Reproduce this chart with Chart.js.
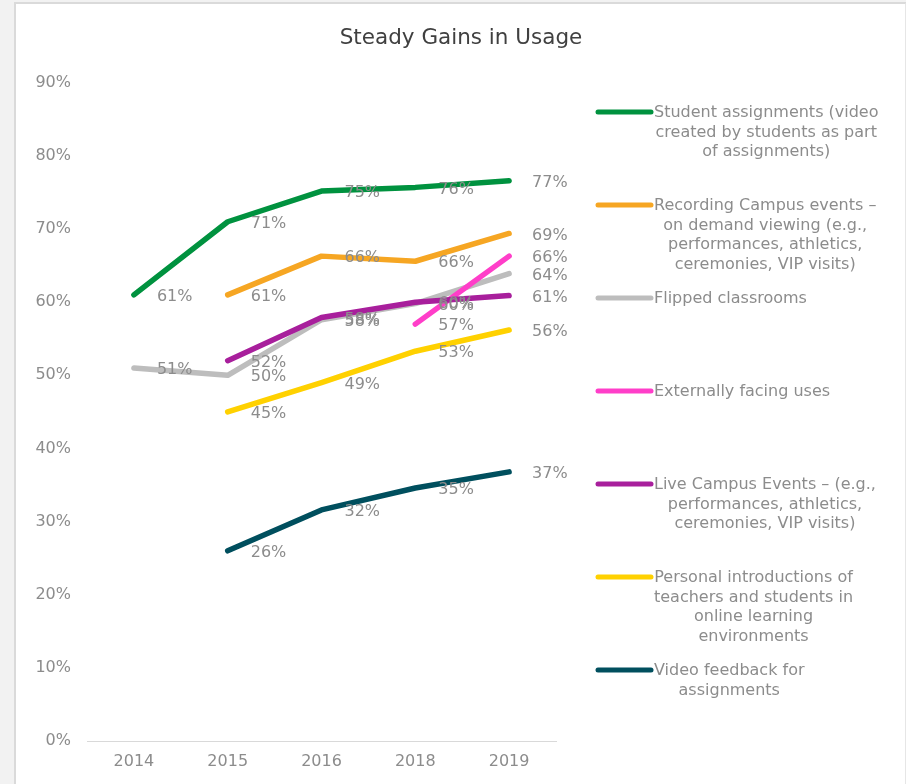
<!DOCTYPE html>
<html>
<head>
<meta charset="utf-8">
<script src="https://cdn.jsdelivr.net/npm/chart.js@4/dist/chart.umd.min.js"></script>
<style>
  html, body { margin: 0; padding: 0; background: #f2f2f2; }
  body { width: 906px; height: 784px; position: relative; overflow: hidden; }
  #card { position: absolute; left: 14px; top: 2px; width: 889px; height: 782px;
          background: #ffffff; border-left: 2px solid #dadada; border-top: 2px solid #dadada; border-right: 2px solid #e6e6e6; }
  #wrap { position: absolute; left: 1px; top: 1px; width: 888px; height: 781px; }
</style>
</head>
<body>
<div id="card"><div id="wrap"><canvas id="c" width="888" height="781"></canvas></div></div>
<script>
// ---- data ----
const years = ['2014', '2015', '2016', '2018', '2019'];
const studentAssignments = [61, 71, 75.2, 75.7, 76.6];
const recordingEvents    = [null, 61, 66.3, 65.6, 69.4];
const flippedClassrooms  = [51, 50, 57.6, 59.8, 63.9];
const externalUses       = [null, null, null, 57, 66.3];
const liveEvents         = [null, 52, 57.9, 60, 60.9];
const personalIntros     = [null, 45, 49, 53.3, 56.2];
const videoFeedback      = [null, 26, 31.6, 34.6, 36.8];

const seriesNames = [
  ['Student assignments (video', 'created by students as part', 'of assignments)'],
  ['Recording Campus events –', 'on demand viewing (e.g.,', 'performances, athletics,', 'ceremonies, VIP visits)'],
  ['Flipped classrooms'],
  ['Externally facing uses'],
  ['Live Campus Events – (e.g.,', 'performances, athletics,', 'ceremonies, VIP visits)'],
  ['Personal introductions of', 'teachers and students in', 'online learning', 'environments'],
  ['Video feedback for', 'assignments']
];
const seriesData = [studentAssignments, recordingEvents, flippedClassrooms, externalUses, liveEvents, personalIntros, videoFeedback];
const seriesColors = ['#00923f', '#f6a623', '#bdbdbd', '#ff3ec9', '#a81f9c', '#ffd100', '#004f5e'];

const yTicksMin = 0, yTicksMax = 90, yStep = 10;
const FONT = "'DejaVu Sans', Verdana, sans-serif";
const GREY = '#8c8c8c';

Chart.defaults.font.family = FONT;
Chart.defaults.font.size = 16;
Chart.defaults.color = GREY;

const datasets = seriesData.map((d, i) => ({
  label: seriesNames[i].join(' '),
  data: d,
  borderColor: seriesColors[i],
  backgroundColor: seriesColors[i],
  borderWidth: 5.5,
  borderCapStyle: 'round',
  borderJoinStyle: 'round',
  pointRadius: 0,
  pointHoverRadius: 0,
  tension: 0,
  spanGaps: false,
  yAxisID: 'y',
  order: seriesData.length - i
}));

const valueLabels = {
  id: 'valueLabels',
  afterDatasetsDraw(chart) {
    const ctx = chart.ctx;
    ctx.save();
    ctx.font = '16px ' + FONT;
    ctx.fillStyle = GREY;
    ctx.textAlign = 'left';
    ctx.textBaseline = 'middle';
    chart.data.datasets.forEach((ds, di) => {
      const meta = chart.getDatasetMeta(di);
      meta.data.forEach((pt, i) => {
        const v = ds.data[i];
        if (v === null || v === undefined) return;
        ctx.fillText(Math.round(v) + '%', pt.x + 23, pt.y + 2);
      });
    });
    ctx.restore();
  }
};

const sideLegend = {
  id: 'sideLegend',
  afterDraw(chart) {
    const ctx = chart.ctx;
    const area = chart.chartArea;
    const lineX0 = area.right + 42, lineX1 = area.right + 95, textX = area.right + 98;
    const firstY = 107, gap = 93, lh = 19.6;
    ctx.save();
    ctx.font = '16px ' + FONT;
    ctx.textBaseline = 'middle';
    seriesNames.forEach((lines, i) => {
      const y = firstY + i * gap;
      ctx.strokeStyle = seriesColors[i];
      ctx.lineWidth = 5;
      ctx.lineCap = 'round';
      ctx.beginPath();
      ctx.moveTo(lineX0, y);
      ctx.lineTo(lineX1, y);
      ctx.stroke();
      const w = Math.max(...lines.map(t => ctx.measureText(t).width));
      ctx.fillStyle = GREY;
      if (lines.length === 1) {
        ctx.textAlign = 'left';
        ctx.fillText(lines[0], textX, y + 1);
      } else {
        ctx.textAlign = 'center';
        lines.forEach((t, k) => ctx.fillText(t, textX + w / 2, y + 1 + k * lh));
      }
    });
    ctx.restore();
  }
};

new Chart(document.getElementById('c'), {
  type: 'line',
  data: { labels: years, datasets },
  options: {
    responsive: false,
    animation: false,
    events: [],
    layout: { padding: 0 },
    plugins: {
      legend: { display: false },
      tooltip: { enabled: false },
      title: {
        display: true,
        text: 'Steady Gains in Usage',
        color: '#404040',
        font: { family: FONT, size: 21.5, weight: 'normal' },
        padding: { top: 21, bottom: 31 }
      }
    },
    scales: {
      x: {
        offset: true,
        grid: { display: false, drawTicks: false },
        border: { display: true, color: '#d9d9d9', width: 1 },
        ticks: { padding: 11, color: GREY, font: { size: 16 } },
        afterFit(s) { s.height = 45; }
      },
      y: {
        position: 'left',
        min: yTicksMin,
        max: yTicksMax,
        grid: { display: false, drawTicks: false },
        border: { display: false },
        ticks: { stepSize: yStep, padding: 16, color: GREY, font: { size: 16 },
                 callback: v => v + '%' },
        afterFit(s) { s.width = 70; }
      },
      legendSpace: {
        position: 'right',
        min: yTicksMin,
        max: yTicksMax,
        grid: { display: false, drawTicks: false },
        border: { display: false },
        ticks: { display: false },
        afterFit(s) { s.width = 349; }
      }
    }
  },
  plugins: [valueLabels, sideLegend]
});
</script>
</body>
</html>
